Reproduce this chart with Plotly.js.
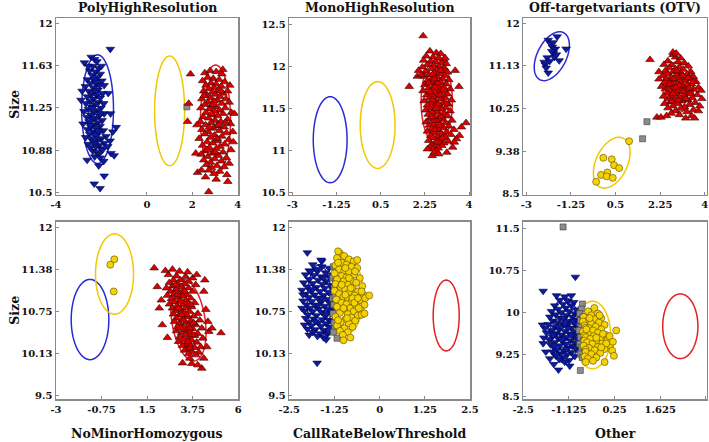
<!DOCTYPE html>
<html>
<head>
<meta charset="utf-8">
<script src="https://cdn.plot.ly/plotly-3.0.1.min.js"></script>
<style>body{margin:0}#chart{width:709px;height:442px}</style>
</head>
<body>
<div id="chart"></div>
<script>
// panel titles
const topTitles = ['PolyHighResolution', 'MonoHighResolution', 'Off-targetvariants (OTV)']
const bottomTitles = ['NoMinorHomozygous', 'CallRateBelowThreshold', 'Other']

// tick values / labels per panel
const xTicks = [[-4, 0, 2, 4], [-3, -1.25, 0.5, 2.25, 4], [-3, -1.25, 0.5, 2.25, 4],
  [-3, -0.75, 1.5, 3.75, 6], [-2.5, -1.25, 0, 1.25, 2.5], [-2.5, -1.125, 0.25, 1.625, 3]]
const yTicks = [[10.5, 10.875, 11.25, 11.625, 12], [10.5, 11, 11.5, 12, 12.5], [8.5, 9.375, 10.25, 11.125, 12],
  [9.5, 10.125, 10.75, 11.375, 12], [9.5, 10.125, 10.75, 11.375, 12], [8.5, 9.25, 10, 10.75, 11.5]]
const yTickText = [['10.5', '10.88', '11.25', '11.63', '12'], ['10.5', '11', '11.5', '12', '12.5'],
  ['8.5', '9.38', '10.25', '11.13', '12'], ['9.5', '10.13', '10.75', '11.38', '12'],
  ['9.5', '10.13', '10.75', '11.38', '12'], ['8.5', '9.25', '10', '10.75', '11.5']]

// panel 1 PolyHighResolution
const polyBlue = [[-2.45,11.70],[-2.30,11.68],[-2.20,11.66],[-2.38,11.62],[-2.12,11.60],[-2.52,11.58],[-2.26,11.57],[-2.05,11.55],[-2.41,11.54],[-2.18,11.52],[-2.62,11.50],[-2.33,11.50],[-1.98,11.49],[-2.48,11.47],[-2.22,11.46],[-2.09,11.45],[-2.71,11.44],[-2.36,11.43],[-2.15,11.41],[-2.55,11.40],[-2.85,11.40],[-2.28,11.39],[-1.95,11.38],[-2.44,11.37],[-2.20,11.36],[-2.62,11.35],[-2.05,11.34],[-2.35,11.33],[-2.50,11.31],[-2.14,11.30],[-1.90,11.29],[-2.68,11.29],[-2.29,11.28],[-2.42,11.26],[-2.02,11.25],[-2.58,11.24],[-2.18,11.23],[-2.77,11.22],[-2.34,11.21],[-1.88,11.20],[-2.48,11.19],[-2.10,11.18],[-2.64,11.17],[-2.25,11.16],[-2.40,11.15],[-1.97,11.14],[-2.55,11.13],[-2.16,11.12],[-2.81,11.11],[-2.32,11.10],[-2.06,11.09],[-2.46,11.08],[-1.35,11.08],[-2.22,11.07],[-2.61,11.06],[-1.92,11.05],[-2.37,11.04],[-1.50,11.04],[-2.12,11.03],[-2.52,11.02],[-2.28,11.01],[-1.80,11.00],[-2.70,10.99],[-2.00,10.98],[-2.43,10.97],[-2.18,10.96],[-1.62,10.96],[-2.35,10.95],[-1.88,10.94],[-2.58,10.93],[-2.10,10.92],[-2.26,10.91],[-1.72,10.91],[-2.48,10.90],[-2.02,10.89],[-1.95,10.88],[-2.38,10.87],[-2.20,10.86],[-1.58,10.85],[-2.12,10.84],[-1.44,10.83],[-2.30,10.82],[-2.05,10.81],[-2.63,10.79],[-1.90,10.78],[-1.61,11.77],[-2.75,11.65],[-2.58,11.62],[-2.90,11.32],[-1.70,11.38],[-1.60,11.20],[-2.00,11.62],[-1.88,11.45],[-2.12,10.74],[-1.88,10.65],[-2.32,10.58],[-2.06,10.54],[-2.25,11.48],[-2.40,11.25],[-2.15,11.05],[-2.30,10.98],[-2.50,11.10],[-2.05,11.20]]
const polyRed = [[2.55,11.56],[2.78,11.58],[3.05,11.57],[3.30,11.55],[2.68,11.52],[2.92,11.51],[3.18,11.50],[2.45,11.49],[3.42,11.48],[2.82,11.47],[3.05,11.46],[2.60,11.45],[3.28,11.44],[2.95,11.43],[2.72,11.42],[3.15,11.41],[3.55,11.40],[2.50,11.40],[2.88,11.39],[3.35,11.38],[3.02,11.37],[2.65,11.36],[3.22,11.35],[2.80,11.34],[3.48,11.33],[2.42,11.33],[3.10,11.32],[2.95,11.31],[2.70,11.30],[3.62,11.30],[3.30,11.29],[2.55,11.28],[2.85,11.27],[3.05,11.26],[3.45,11.25],[2.38,11.25],[2.75,11.24],[3.20,11.23],[2.98,11.22],[3.72,11.21],[2.60,11.21],[3.35,11.20],[2.88,11.19],[3.12,11.18],[2.48,11.17],[2.72,11.16],[3.55,11.15],[3.00,11.14],[2.35,11.13],[3.25,11.13],[2.82,11.12],[3.68,11.11],[2.58,11.10],[3.08,11.09],[3.40,11.08],[2.92,11.07],[2.42,11.06],[3.20,11.05],[2.70,11.04],[3.78,11.04],[3.50,11.03],[2.55,11.02],[2.98,11.01],[3.30,11.00],[2.80,10.99],[2.30,10.98],[3.60,10.97],[3.12,10.96],[2.65,10.95],[2.90,10.94],[3.42,10.93],[2.45,10.92],[3.22,10.91],[2.75,10.90],[3.05,10.89],[3.70,10.88],[2.55,10.87],[3.35,10.86],[2.88,10.85],[2.38,10.84],[3.15,10.83],[2.68,10.82],[3.50,10.81],[2.98,10.80],[2.50,10.79],[3.28,10.78],[2.80,10.77],[3.62,10.76],[2.62,10.75],[3.08,10.74],[3.40,10.73],[2.85,10.72],[2.72,10.70],[3.20,10.69],[2.95,10.67],[3.52,10.66],[2.58,10.64],[3.05,10.62],[1.92,11.55],[1.84,11.29],[1.79,11.13],[2.23,10.68],[2.72,10.51],[3.56,10.60],[3.34,11.59],[2.15,10.85],[2.20,11.10],[3.85,11.20],[3.80,10.95],[2.40,10.70],[3.65,11.45],[2.90,11.28],[3.15,11.10],[2.75,11.08],[3.10,10.98],[2.85,11.20],[3.25,11.40],[2.65,10.88],[3.00,10.86],[3.45,11.12],[2.52,11.36]]
const polyGray = [[1.76,11.26]]

// panel 2 MonoHighResolution
const monoRed = [[2.45,12.18],[2.70,12.16],[2.88,12.15],[2.30,12.12],[2.58,12.11],[2.80,12.10],[3.00,12.08],[2.20,12.07],[2.48,12.06],[2.68,12.05],[2.92,12.04],[3.10,12.03],[2.35,12.02],[2.60,12.01],[2.80,12.00],[2.15,11.99],[3.02,11.98],[2.50,11.97],[2.72,11.96],[2.95,11.95],[2.28,11.94],[3.15,11.93],[2.62,11.92],[2.85,11.91],[2.42,11.90],[3.05,11.89],[2.22,11.88],[2.75,11.87],[2.55,11.86],[2.95,11.85],[3.20,11.84],[2.35,11.83],[2.68,11.82],[2.88,11.81],[2.48,11.80],[3.10,11.79],[2.25,11.78],[2.78,11.77],[2.60,11.76],[3.00,11.75],[2.40,11.74],[3.25,11.73],[2.85,11.72],[2.18,11.71],[2.65,11.70],[2.95,11.69],[2.50,11.68],[3.15,11.67],[2.32,11.66],[2.75,11.65],[2.58,11.64],[3.05,11.63],[2.42,11.62],[2.88,11.61],[3.30,11.60],[2.22,11.59],[2.68,11.58],[2.98,11.57],[2.50,11.56],[3.18,11.55],[2.35,11.54],[2.80,11.53],[2.62,11.52],[3.08,11.51],[2.45,11.50],[2.92,11.49],[2.28,11.48],[3.25,11.47],[2.72,11.46],[2.55,11.45],[3.00,11.44],[2.38,11.43],[2.85,11.42],[3.15,11.41],[2.62,11.40],[2.45,11.38],[2.95,11.37],[3.32,11.36],[2.75,11.35],[2.30,11.34],[3.08,11.33],[2.58,11.32],[2.88,11.31],[2.42,11.30],[3.20,11.29],[2.70,11.28],[2.98,11.27],[2.52,11.26],[3.40,11.25],[2.80,11.24],[2.35,11.23],[3.10,11.22],[2.62,11.21],[2.90,11.20],[3.28,11.19],[2.48,11.18],[2.75,11.17],[3.05,11.16],[2.58,11.15],[3.50,11.14],[2.85,11.13],[2.40,11.12],[3.18,11.11],[2.68,11.10],[3.00,11.09],[2.52,11.07],[2.92,11.06],[2.65,11.05],[2.45,11.04],[2.78,11.03],[2.58,11.02],[2.70,11.00],[2.55,11.90],[2.75,11.80],[2.65,11.75],[2.85,11.66],[2.40,11.80],[2.78,11.55],[2.55,11.60],[2.70,11.50],[2.90,11.40],[2.60,11.36],[2.82,11.30],[2.65,11.25],[2.95,11.15],[2.75,11.10],[2.50,11.40],[2.88,11.95],[2.62,11.85],[2.98,11.72],[2.45,11.70],[3.10,11.56],[2.18,12.36],[2.54,10.94],[1.63,11.76],[3.60,11.76],[3.88,11.33],[2.00,11.95],[1.95,11.88],[3.45,11.95],[3.70,11.28],[3.62,11.18],[3.42,11.10],[3.35,11.04],[2.35,11.02],[2.62,10.98],[3.12,10.98],[2.80,10.96],[2.10,11.90],[3.05,12.10]]

// panel 3 Off-target variants
const otvBlue = [[-1.79,11.72],[-2.14,11.65],[-1.44,11.47],[-1.98,11.51],[-1.94,11.39],[-1.71,11.23],[-2.18,11.29],[-2.26,11.15],[-2.14,10.98],[-2.30,11.20],[-1.86,11.47],[-2.05,11.58],[-1.90,11.30],[-2.00,11.42],[-2.22,11.08],[-1.82,11.35],[-2.08,11.22],[-1.95,11.60]]
const otvYellow = [[0.02,9.24],[0.35,9.21],[0.44,9.09],[0.64,9.03],[-0.07,8.89],[0.18,8.94],[0.15,8.86],[0.39,8.83],[-0.26,8.75],[1.03,9.58]]
const otvGray = [[1.73,9.98],[1.56,9.63]]
const otvRed = [[2.85,11.30],[2.75,11.35],[3.05,11.28],[2.55,11.22],[2.95,11.20],[3.20,11.18],[2.40,11.15],[2.70,11.14],[3.35,11.12],[3.00,11.10],[2.60,11.08],[2.85,11.06],[3.15,11.05],[2.45,11.02],[3.45,11.00],[2.75,11.00],[3.05,10.98],[2.55,10.96],[3.30,10.95],[2.90,10.94],[2.35,10.92],[3.55,10.90],[3.15,10.90],[2.68,10.89],[2.98,10.87],[3.40,10.85],[2.50,10.85],[2.82,10.83],[3.22,10.82],[3.65,10.80],[2.62,10.80],[3.05,10.78],[2.40,10.77],[2.90,10.76],[3.48,10.75],[3.30,10.73],[2.72,10.73],[2.55,10.70],[3.12,10.70],[3.75,10.68],[2.95,10.67],[2.45,10.65],[3.55,10.64],[2.80,10.63],[3.25,10.62],[2.65,10.60],[3.05,10.59],[3.42,10.57],[2.50,10.56],[2.88,10.55],[3.70,10.53],[3.18,10.52],[2.70,10.50],[3.00,10.48],[3.50,10.47],[2.58,10.45],[2.85,10.43],[3.32,10.42],[3.10,10.40],[2.65,10.38],[3.62,10.37],[2.95,10.35],[3.40,10.33],[2.75,10.30],[3.20,10.28],[2.55,10.26],[3.05,10.25],[3.55,10.22],[2.85,10.20],[3.30,10.18],[2.68,10.15],[3.75,10.20],[3.00,10.12],[3.48,10.10],[2.90,11.02],[3.15,10.92],[2.78,10.86],[3.35,10.88],[2.60,10.75],[3.00,10.72],[3.38,10.66],[2.75,10.55],[3.25,10.45],[2.95,10.42],[3.15,10.60],[2.70,10.40],[3.45,10.55],[2.85,10.68],[3.55,10.80],[3.85,10.62],[3.88,10.45],[3.80,10.30],[2.38,10.50],[2.30,10.70],[2.42,10.35],[1.85,11.25],[2.75,11.40],[2.88,11.38],[2.12,10.07],[2.28,10.07],[2.50,10.10],[3.25,10.05],[3.60,10.05],[2.20,11.00],[2.20,10.85]]

// panel 4 NoMinorHomozygous
const nmhYellow = [[-0.12,11.53],[-0.32,11.45],[-0.15,11.05]]
const nmhRed = [[2.55,11.30],[2.95,11.28],[3.40,11.27],[3.75,11.25],[2.80,11.22],[3.15,11.22],[3.55,11.20],[2.60,11.18],[3.00,11.17],[3.35,11.16],[3.90,11.15],[2.75,11.13],[3.20,11.12],[2.45,11.10],[3.55,11.10],[2.95,11.08],[3.30,11.07],[2.65,11.05],[3.75,11.05],[3.10,11.03],[2.85,11.01],[3.45,11.00],[2.50,10.99],[3.25,10.98],[2.98,10.96],[3.65,10.95],[2.70,10.94],[3.40,10.92],[3.10,10.91],[2.85,10.89],[3.85,10.88],[3.55,10.87],[2.60,10.86],[3.25,10.85],[2.98,10.83],[3.70,10.82],[3.40,10.80],[2.75,10.80],[3.15,10.78],[2.90,10.76],[3.60,10.75],[3.35,10.73],[4.00,10.72],[2.80,10.71],[3.10,10.70],[3.80,10.68],[3.50,10.67],[2.95,10.65],[3.25,10.64],[4.10,10.62],[3.65,10.61],[2.85,10.60],[3.40,10.58],[3.10,10.57],[3.90,10.55],[3.55,10.54],[3.00,10.52],[3.28,10.51],[4.20,10.50],[3.75,10.49],[3.45,10.47],[2.95,10.46],[3.60,10.44],[3.20,10.43],[4.00,10.42],[3.40,10.40],[3.85,10.39],[3.10,10.37],[3.55,10.36],[4.25,10.35],[3.30,10.33],[3.70,10.32],[3.05,10.30],[3.95,10.29],[3.45,10.27],[3.62,10.25],[3.25,10.24],[4.15,10.22],[3.85,10.21],[3.50,10.19],[3.35,10.17],[3.72,10.15],[4.05,10.14],[3.55,10.12],[3.90,10.10],[3.00,11.00],[3.20,10.90],[3.05,10.80],[3.30,10.62],[3.45,10.70],[3.60,10.50],[3.75,10.40],[3.50,10.30],[3.15,10.50],[3.35,11.05],[2.90,11.15],[3.65,10.85],[3.20,10.70],[3.80,10.58],[3.60,10.20],[1.85,11.40],[2.40,11.36],[2.75,11.38],[3.10,11.35],[3.50,11.34],[3.95,11.30],[4.35,11.22],[4.30,11.05],[2.20,10.92],[2.00,11.12],[2.10,10.80],[2.25,10.55],[2.50,10.36],[4.40,10.78],[4.50,10.60],[4.55,10.45],[5.15,10.43],[4.70,10.50],[4.45,10.22],[4.20,9.90],[3.25,9.98],[3.70,9.97],[4.00,9.95],[3.60,10.05],[4.30,10.05]]

// panel 5 CallRateBelowThreshold
const crbBlue = [[-1.85,11.45],[-1.60,11.42],[-1.40,11.40],[-1.95,11.36],[-1.72,11.35],[-1.50,11.33],[-2.05,11.30],[-1.82,11.29],[-1.62,11.27],[-1.38,11.26],[-1.95,11.23],[-1.70,11.22],[-1.48,11.20],[-2.10,11.18],[-1.85,11.17],[-1.58,11.16],[-1.35,11.14],[-2.00,11.12],[-1.75,11.11],[-1.52,11.10],[-2.15,11.07],[-1.90,11.06],[-1.65,11.05],[-1.42,11.04],[-2.05,11.01],[-1.80,11.00],[-1.55,10.99],[-1.32,10.98],[-1.95,10.96],[-1.70,10.95],[-1.45,10.93],[-2.12,10.91],[-1.88,10.90],[-1.62,10.89],[-1.38,10.88],[-2.02,10.85],[-1.78,10.84],[-1.52,10.83],[-1.92,10.80],[-1.68,10.79],[-1.42,10.78],[-2.08,10.76],[-1.85,10.75],[-1.60,10.74],[-1.35,10.73],[-1.98,10.70],[-1.75,10.69],[-1.50,10.68],[-2.05,10.65],[-1.82,10.64],[-1.58,10.63],[-1.40,10.62],[-1.95,10.59],[-1.70,10.58],[-1.48,10.57],[-1.88,10.54],[-1.62,10.53],[-1.38,10.52],[-2.00,10.49],[-1.78,10.48],[-1.55,10.47],[-1.85,10.44],[-1.65,10.42],[-1.45,10.41],[-1.72,10.38],[-1.55,10.36],[-1.75,11.38],[-1.55,11.25],[-1.85,11.08],[-1.60,10.95],[-1.70,10.85],[-1.48,10.72],[-1.78,10.60],[-1.90,11.35],[-1.32,11.30],[-1.30,11.08],[-1.30,10.80],[-1.32,10.60],[-2.12,11.00],[-2.15,10.80],[-1.95,10.40],[-1.60,11.50],[-2.00,11.63],[-1.62,11.52],[-1.73,9.98],[-1.48,10.33],[-1.40,10.45],[-2.08,10.55]]
const crbGray = [[-1.28,11.42],[-1.30,11.25],[-1.26,11.10],[-1.30,10.95],[-1.27,10.85],[-1.29,10.72],[-1.26,10.58],[-1.24,10.50],[-1.28,10.44],[-1.18,10.35],[-1.22,11.20],[-1.24,10.98],[-1.23,11.38]]
const crbYellow = [[-1.10,11.62],[-0.98,11.58],[-1.18,11.55],[-0.85,11.53],[-0.72,11.50],[-1.05,11.48],[-0.92,11.45],[-1.22,11.44],[-0.78,11.42],[-0.62,11.40],[-1.12,11.38],[-0.98,11.36],[-0.85,11.34],[-1.25,11.32],[-0.70,11.30],[-1.05,11.28],[-0.92,11.26],[-0.55,11.25],[-1.18,11.23],[-0.80,11.22],[-1.00,11.20],[-0.65,11.18],[-1.22,11.16],[-0.88,11.15],[-0.48,11.13],[-1.08,11.12],[-0.75,11.10],[-0.95,11.08],[-1.25,11.06],[-0.60,11.05],[-0.85,11.03],[-1.12,11.01],[-0.45,11.00],[-0.70,10.99],[-1.00,10.97],[-0.88,10.95],[-1.20,10.93],[-0.55,10.92],[-0.78,10.90],[-1.05,10.88],[-0.92,10.86],[-0.42,10.85],[-0.65,10.84],[-1.18,10.82],[-0.82,10.80],[-0.98,10.78],[-0.52,10.77],[-0.72,10.75],[-1.10,10.73],[-0.88,10.71],[-0.60,10.69],[-1.22,10.67],[-0.78,10.66],[-0.95,10.63],[-0.68,10.61],[-1.08,10.59],[-0.85,10.57],[-1.18,10.54],[-0.75,10.52],[-0.98,10.50],[-1.10,10.46],[-0.88,10.44],[-1.02,10.40],[-0.95,11.40],[-0.80,11.10],[-0.95,11.00],[-0.75,10.95],[-1.00,10.80],[-0.70,10.88],[-0.90,10.65],[-1.05,11.15],[-0.60,10.95],[-0.50,11.05],[-0.40,10.95],[-0.50,10.70],[-1.15,10.62],[-0.85,11.25],[-0.68,11.35],[-1.15,11.48],[-0.58,10.80],[-0.29,10.99],[-0.81,10.36],[-0.62,11.52],[-0.42,10.72],[-1.00,10.32],[-1.15,11.65]]

// panel 6 Other
const othBlue = [[-1.40,10.22],[-1.15,10.20],[-0.98,10.18],[-1.30,10.15],[-1.55,10.12],[-1.05,10.12],[-1.22,10.08],[-1.45,10.06],[-0.90,10.05],[-1.65,10.02],[-1.12,10.02],[-1.35,10.00],[-0.95,9.98],[-1.52,9.96],[-1.20,9.95],[-1.70,9.92],[-1.02,9.92],[-1.40,9.90],[-1.28,9.88],[-0.88,9.87],[-1.60,9.85],[-1.12,9.84],[-1.48,9.82],[-0.95,9.80],[-1.75,9.79],[-1.30,9.78],[-1.18,9.76],[-1.55,9.74],[-0.85,9.73],[-1.05,9.72],[-1.42,9.70],[-1.65,9.68],[-1.25,9.67],[-0.92,9.66],[-1.80,9.64],[-1.50,9.63],[-1.10,9.62],[-1.35,9.60],[-0.98,9.58],[-1.62,9.57],[-1.20,9.56],[-1.45,9.54],[-0.88,9.53],[-1.72,9.52],[-1.08,9.50],[-1.32,9.49],[-1.55,9.47],[-0.95,9.46],[-1.22,9.44],[-1.68,9.43],[-1.40,9.41],[-1.02,9.40],[-1.58,9.38],[-1.15,9.37],[-0.90,9.35],[-1.48,9.34],[-1.28,9.32],[-1.62,9.30],[-1.05,9.29],[-1.38,9.27],[-1.18,9.25],[-1.52,9.23],[-0.95,9.22],[-1.30,9.20],[-1.42,9.17],[-1.12,9.15],[-1.25,9.12],[-1.30,9.90],[-1.15,9.72],[-1.35,9.52],[-1.25,9.80],[-1.05,9.60],[-1.45,9.75],[-1.20,9.35],[-1.60,9.60],[-1.00,9.85],[-1.50,9.25],[-0.85,9.40],[-0.82,9.95],[-0.85,9.62],[-1.85,9.72],[-1.88,9.55],[-0.93,10.63],[-1.90,10.38],[-1.50,10.30],[-1.25,10.28],[-1.05,10.30],[-1.44,8.98],[-1.90,9.45],[-1.82,9.30],[-1.70,9.18],[-1.92,9.78],[-1.10,9.05],[-1.58,9.08]]
const othGray = [[-0.72,10.15],[-0.75,10.06],[-0.80,9.98],[-0.70,9.92],[-0.78,9.86],[-0.68,9.80],[-0.76,9.74],[-0.82,9.68],[-0.70,9.62],[-0.78,9.56],[-0.68,9.50],[-0.80,9.44],[-0.74,9.38],[-0.66,9.32],[-0.78,9.26],[-0.72,9.20],[-0.78,8.97],[-1.30,11.52]]
const othYellow = [[-0.36,10.08],[-0.55,10.02],[-0.25,9.98],[-0.45,9.95],[-0.68,9.92],[-0.15,9.90],[-0.35,9.88],[-0.58,9.85],[-0.70,9.84],[-0.22,9.82],[-0.45,9.80],[-0.05,9.78],[-0.65,9.77],[-0.32,9.75],[-0.62,9.73],[-0.52,9.72],[-0.15,9.70],[0.30,9.68],[-0.40,9.68],[-0.70,9.66],[-0.25,9.64],[-0.55,9.62],[-0.02,9.60],[-0.66,9.59],[-0.38,9.58],[-0.62,9.56],[-0.18,9.55],[-0.48,9.53],[0.05,9.52],[-0.66,9.50],[-0.30,9.49],[-0.58,9.47],[-0.12,9.45],[-0.42,9.44],[0.12,9.42],[-0.68,9.41],[-0.25,9.39],[-0.52,9.37],[-0.05,9.35],[-0.62,9.34],[-0.35,9.33],[0.18,9.32],[-0.62,9.30],[-0.18,9.28],[-0.45,9.26],[0.23,9.23],[-0.65,9.22],[-0.30,9.20],[-0.55,9.18],[-0.05,9.12],[-0.40,9.14],[-0.62,9.12],[-0.20,9.95],[-0.50,9.90],[-0.10,9.62],[-0.30,9.55],[0.00,9.45],[-0.60,9.70],[0.10,9.58],[-0.15,9.38],[0.20,9.48]]

// cluster ellipses: [xc, yc, rx, ry, tilt]
const ellBlue = [[-2.17,11.24,0.70,0.48,0], [-1.50,11.13,0.67,0.51,0], [-2.00,11.32,0.69,0.50,0.45],
  [-1.32,10.63,0.93,0.60,0], [-1.67,10.91,0.335,0.54,0], [-1.245,9.68,0.435,0.58,0]]
const ellYellow = [[1.00,11.225,0.66,0.485,0], [0.38,11.305,0.69,0.515,0], [0.35,9.14,0.72,0.52,0.4],
  [-0.11,11.31,0.94,0.60,0], [-0.885,10.985,0.43,0.555,0], [-0.415,9.60,0.545,0.60,0]]
const ellRed = [[3.02,11.145,0.66,0.485,0], [2.72,11.58,0.62,0.50,0], [2.95,10.69,0.60,0.52,0],
  [3.54,10.62,0.87,0.61,-0.3], [1.84,10.69,0.36,0.53,0], [2.23,9.755,0.53,0.575,0]]

const panels = [
  {blue: polyBlue, gray: polyGray, yellow: [], red: polyRed},
  {blue: [], gray: [], yellow: [], red: monoRed},
  {blue: otvBlue, gray: otvGray, yellow: otvYellow, red: otvRed},
  {blue: [], gray: [], yellow: nmhYellow, red: nmhRed},
  {blue: crbBlue, gray: crbGray, yellow: crbYellow, red: []},
  {blue: othBlue, gray: othGray, yellow: othYellow, red: []}
]

const xRanges = [[-4, 4.02], [-3.12, 4.04], [-3.12, 4.08], [-3, 6], [-2.5, 2.5], [-2.5, 3.03]]
const yRanges = [[10.482, 12.044], [10.476, 12.571], [8.48, 12.1], [9.44, 12.09], [9.44, 12.09], [8.46, 11.61]]
const colDomains = [[0.079, 0.336], [0.408, 0.663], [0.738, 0.997]]
const rowDomains = [[0.559, 0.959], [0.097, 0.498]]

const styles = {
  blue: {symbol: 'triangle-down', size: 7.5, color: '#0c1c9e', line: {color: '#00004a', width: 0.6}},
  gray: {symbol: 'square', size: 6, color: '#8c8c8c', line: {color: '#3a3a3a', width: 0.6}},
  yellow: {symbol: 'circle', size: 7, color: '#f5d300', line: {color: '#5a4800', width: 0.6}},
  red: {symbol: 'triangle-up', size: 7.5, color: '#d80000', line: {color: '#3c0000', width: 0.6}}
}
const ellColors = {blue: '#2a2ad6', yellow: '#f2c800', red: '#e42020'}

function ellipsePath(e) {
  let [xc, yc, rx, ry, rho] = e
  let d = ''
  for (let i = 0; i <= 72; i++) {
    let t = i / 72 * 2 * Math.PI
    let x = xc + rx * Math.cos(t)
    let y = yc + ry * (rho * Math.cos(t) + Math.sqrt(1 - rho * rho) * Math.sin(t))
    d += (i ? 'L' : 'M') + x.toFixed(4) + ',' + y.toFixed(4)
  }
  return d + 'Z'
}

const font = 'DejaVu Serif'
let traces = []
let shapes = []
let layout = {
  width: 709, height: 442,
  margin: {l: 0, r: 0, t: 0, b: 0},
  paper_bgcolor: 'white', plot_bgcolor: 'white',
  showlegend: false,
  font: {family: font, color: '#111'},
  annotations: []
}

panels.forEach((p, i) => {
  let n = i === 0 ? '' : String(i + 1)
  let xa = 'x' + n, ya = 'y' + n
  let axisStyle = {
    showline: true, mirror: true, linecolor: '#8a8a8a', linewidth: 1.5,
    showgrid: false, zeroline: false, ticks: 'inside', ticklen: 3, tickcolor: '#8a8a8a',
    tickfont: {family: font, size: 10, weight: 700, color: '#111'}
  }
  layout['xaxis' + n] = Object.assign({}, axisStyle, {
    domain: colDomains[i % 3], range: xRanges[i], anchor: ya,
    tickmode: 'array', tickvals: xTicks[i], ticktext: xTicks[i].map(String)
  })
  layout['yaxis' + n] = Object.assign({}, axisStyle, {
    domain: rowDomains[Math.floor(i / 3)], range: yRanges[i], anchor: xa,
    tickmode: 'array', tickvals: yTicks[i], ticktext: yTickText[i]
  })
  ;['blue', 'yellow', 'red'].forEach(c => {
    let e = [ellBlue, ellYellow, ellRed][['blue', 'yellow', 'red'].indexOf(c)][i]
    shapes.push({type: 'path', path: ellipsePath(e), xref: xa, yref: ya, layer: 'below',
      line: {color: ellColors[c], width: 1.5}})
  })
  ;['blue', 'gray', 'yellow', 'red'].forEach(c => {
    let arr = p[c]
    if (!arr.length) return
    traces.push({
      x: arr.map(v => v[0]), y: arr.map(v => v[1]),
      xaxis: xa, yaxis: ya, type: 'scatter', mode: 'markers',
      marker: styles[c], hoverinfo: 'skip'
    })
  })
})
layout.shapes = shapes

const titleFont = {family: font, size: 12.5, weight: 700, color: '#111'}
topTitles.forEach((t, i) => {
  layout.annotations.push({text: t, xref: 'paper', yref: 'paper', showarrow: false,
    x: (colDomains[i][0] + colDomains[i][1]) / 2, y: 0.982, xanchor: 'center', yanchor: 'middle', font: titleFont})
})
bottomTitles.forEach((t, i) => {
  layout.annotations.push({text: t, xref: 'paper', yref: 'paper', showarrow: false,
    x: (colDomains[i][0] + colDomains[i][1]) / 2, y: 0.02, xanchor: 'center', yanchor: 'middle', font: titleFont})
})
;[0.765, 0.299].forEach(y => {
  layout.annotations.push({text: 'Size', xref: 'paper', yref: 'paper', showarrow: false,
    x: 0.021, y: y, textangle: -90, xanchor: 'center', yanchor: 'middle', font: titleFont})
})

Plotly.newPlot('chart', traces, layout, {staticPlot: true})
</script>
</body>
</html>
